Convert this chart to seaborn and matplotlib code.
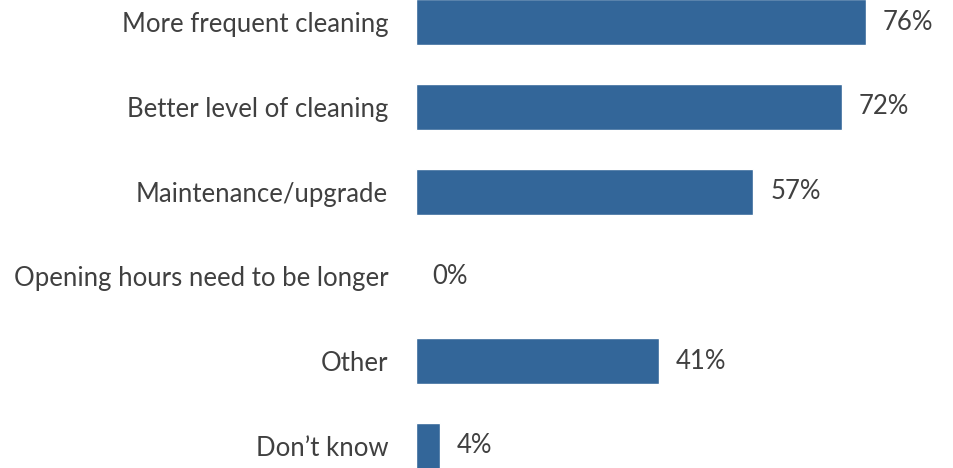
import matplotlib
matplotlib.use("Agg")
import matplotlib.pyplot as plt
import seaborn as sns
import pandas as pd

categories = ["More frequent cleaning", "Better level of cleaning", "Maintenance/upgrade",
              "Opening hours need to be longer", "Other", "Don\u2019t know"]
values = [76, 72, 57, 0, 41, 4]

sns.set_style("white")
plt.rcParams["font.family"] = ["Lato", "DejaVu Sans"]

df = pd.DataFrame({"reason": categories, "pct": values})

fig = plt.figure(figsize=(9.54, 4.68), dpi=100)
ax = fig.add_axes([416 / 954, 0, 1 - 416 / 954, 1])
sns.barplot(data=df, x="pct", y="reason", color="#336699", width=0.54,
            saturation=1, ax=ax)

ax.set_xlim(0, 538 / 5.92)
ax.set_ylim(5.262, -0.263)
ax.set_xlabel(""); ax.set_ylabel("")
ax.set_xticks([])
ax.tick_params(axis="y", length=0, pad=20, labelsize=18.5, labelcolor="#404040")
for s in ax.spines.values():
    s.set_visible(False)

for i, v in enumerate(values):
    ax.annotate(f"{v}%", (v, i), xytext=(12, 0), textcoords="offset points",
                va="center", ha="left", fontsize=18.5, color="#404040")

fig.savefig("out.png", dpi=100)
